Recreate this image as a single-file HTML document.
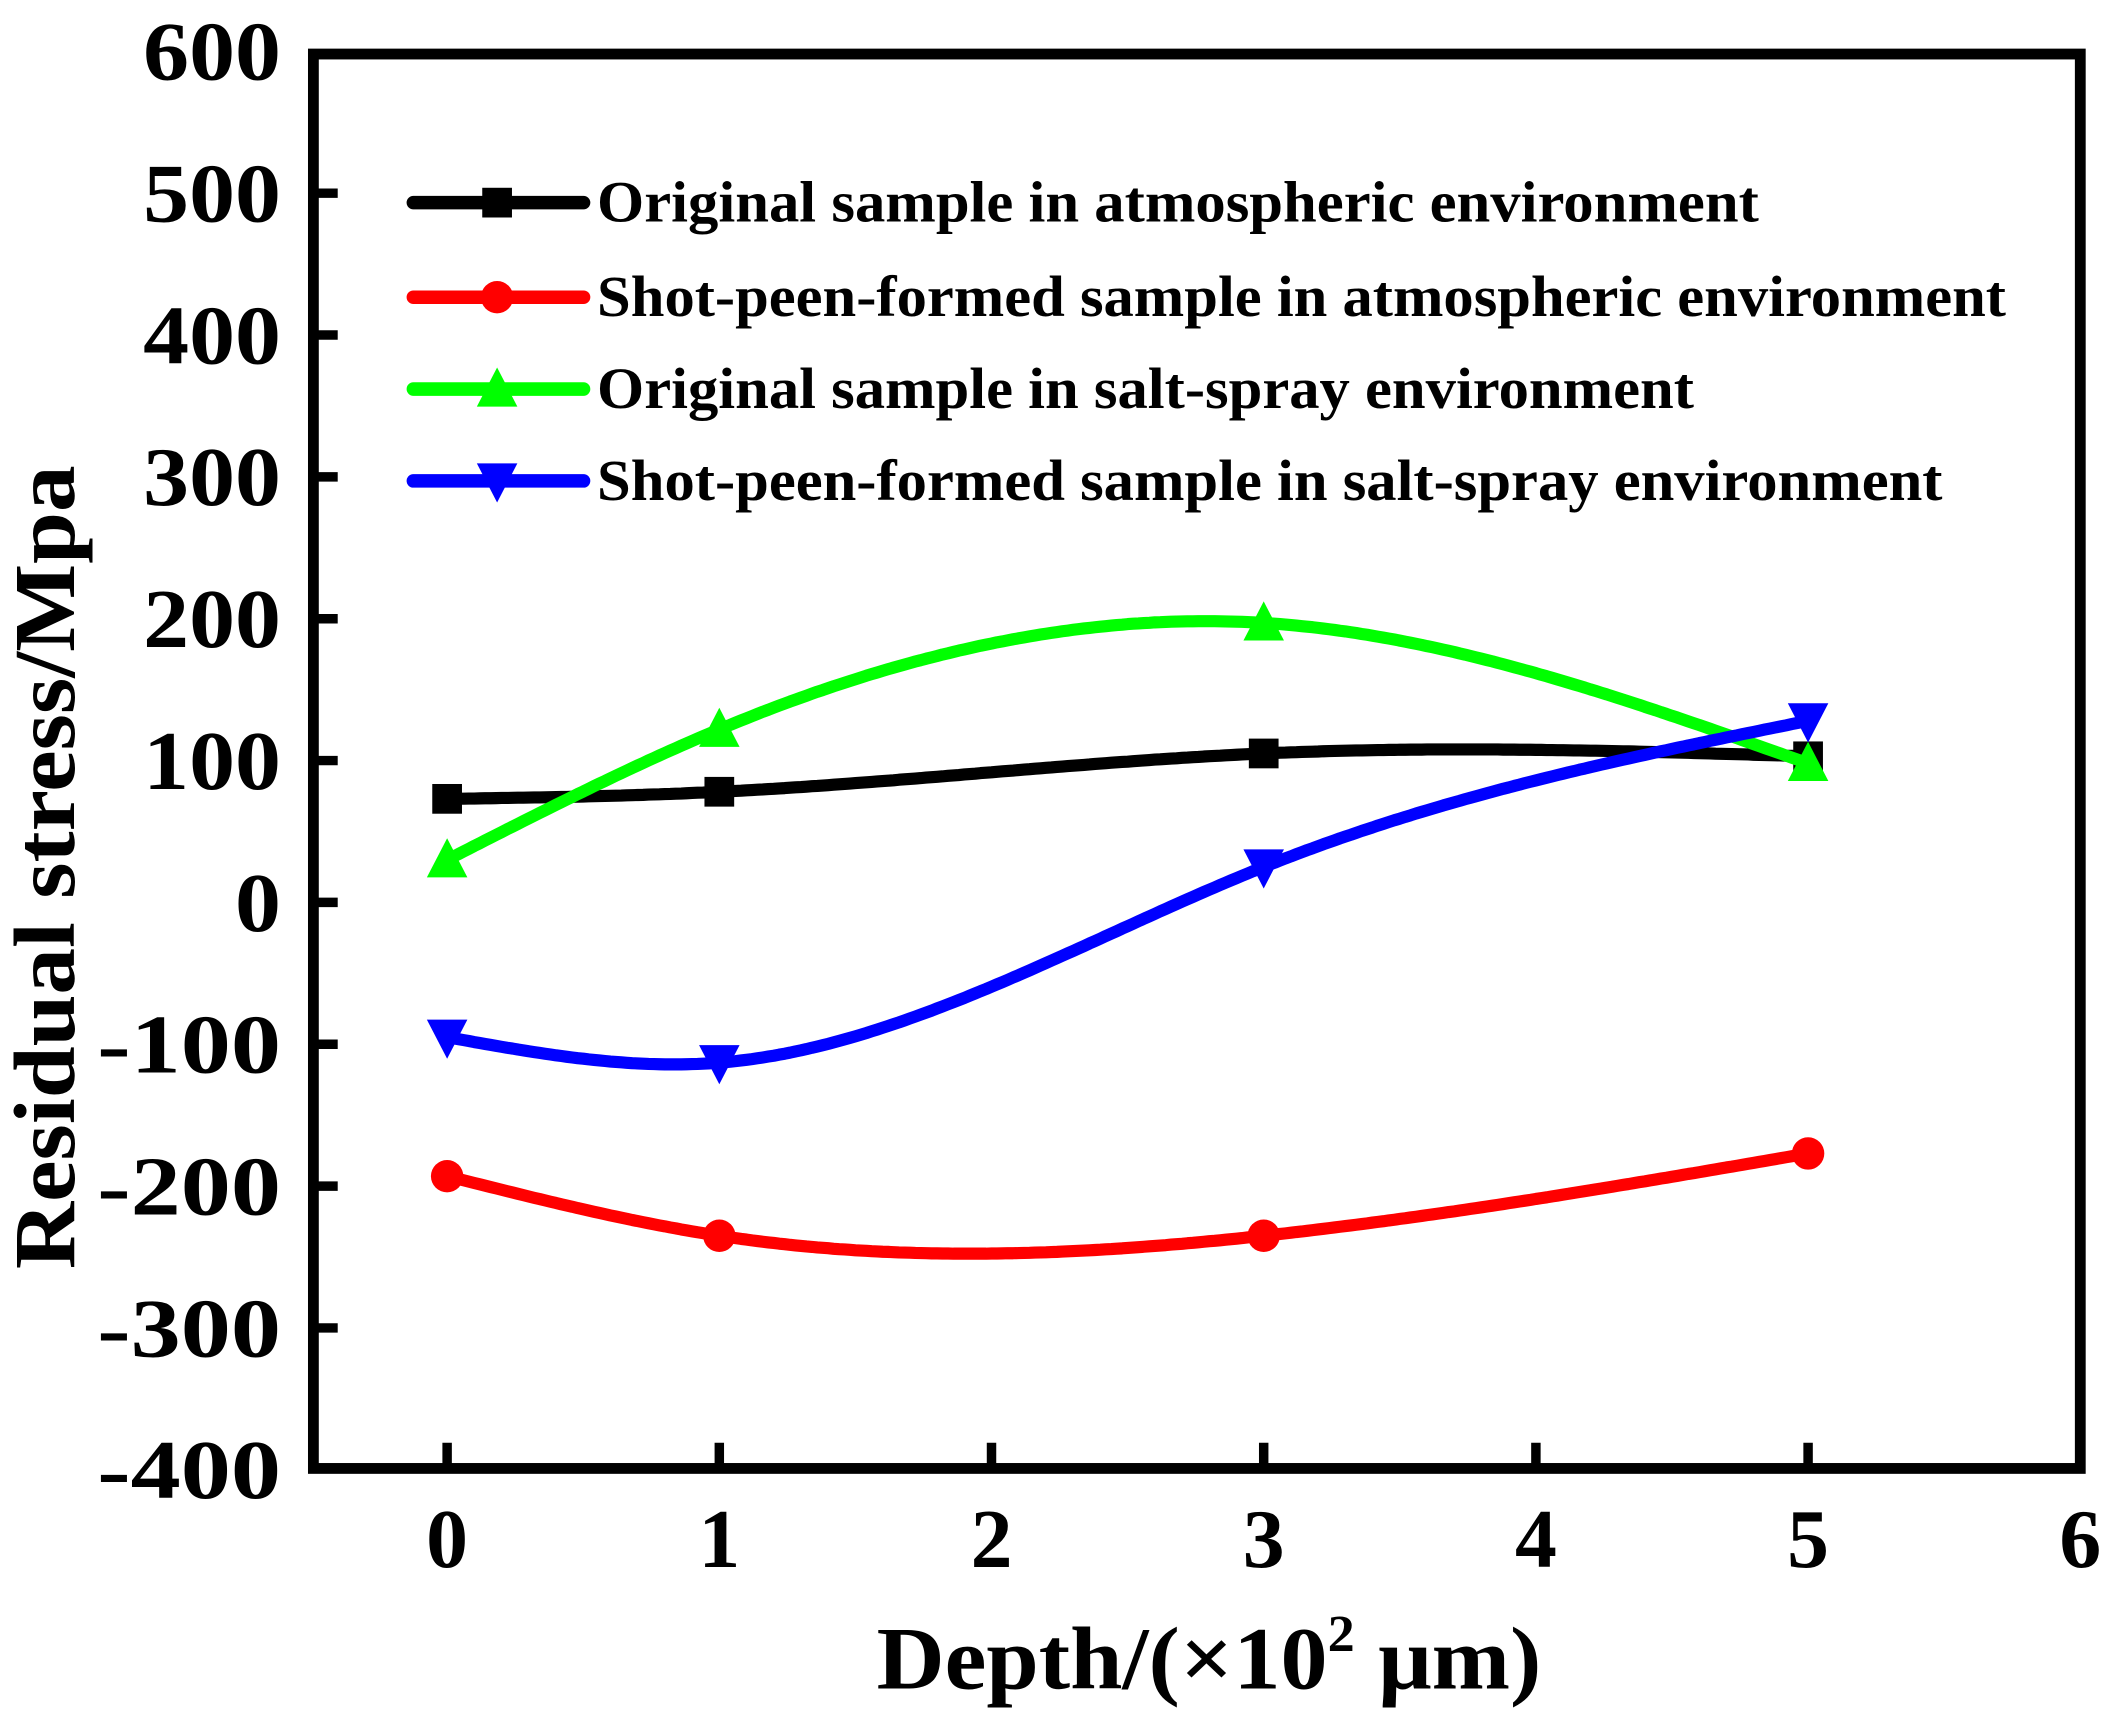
<!DOCTYPE html>
<html><head><meta charset="utf-8"><style>
html,body{margin:0;padding:0;background:#fff;}
svg{display:block;}
text{font-family:"Liberation Serif",serif;font-weight:bold;fill:#000;}
</style></head><body>
<svg id="s" width="2110" height="1717" viewBox="0 0 1562 1271" preserveAspectRatio="none" xmlns="http://www.w3.org/2000/svg">
<rect x="0" y="0" width="1562" height="1271" fill="#fff"/>
<g id="ticks" stroke="#000" stroke-width="7"></g>
<rect x="232" y="40" width="1308" height="1047" fill="none" stroke="#000" stroke-width="8"/>
<g id="series"></g>
<g id="legend"></g>
<g id="labels" font-size="62" text-anchor="end"></g>
<text x="40" y="642" font-size="64" text-anchor="middle" transform="rotate(-90 40 642)" dominant-baseline="middle" textLength="595" lengthAdjust="spacingAndGlyphs">Residual stress/Mpa</text>
<text x="895" y="1250" font-size="66" text-anchor="middle" textLength="492" lengthAdjust="spacingAndGlyphs">Depth/(×10<tspan font-size="38" dy="-28">2</tspan><tspan dy="28"> μm)</tspan></text>
</svg>
<script>
const NS="http://www.w3.org/2000/svg";
function el(t,a,p){const e=document.createElementNS(NS,t);for(const k in a)e.setAttribute(k,a[k]);p.appendChild(e);return e;}
const X=v=>331+v*201.5, Y=v=>668-v*1.05;
const tk=document.getElementById('ticks'), lb=document.getElementById('labels');
for(let v=-400;v<=600;v+=100){
  if(v>-400&&v<600) el('line',{x1:232,y1:Y(v),x2:250,y2:Y(v)},tk);
  const s=String(v);
  const t=el('text',{x:208,y:Y(v)+21,textLength:s.length*34,lengthAdjust:'spacingAndGlyphs'},lb);t.textContent=s;
}
for(let i=0;i<=6;i++){
  if(i<6) el('line',{x1:X(i),y1:1087,x2:X(i),y2:1068},tk);
  const t=el('text',{x:X(i),y:1160,'text-anchor':'middle'},lb);t.textContent=String(i);
}
function spline(xs,ys){
  const n=xs.length,h=[],a=[],l=[1],mu=[0],z=[0],c=new Array(n).fill(0),b=[],d=[];
  for(let i=0;i<n-1;i++)h.push(xs[i+1]-xs[i]);
  for(let i=1;i<n-1;i++)a[i]=3/h[i]*(ys[i+1]-ys[i])-3/h[i-1]*(ys[i]-ys[i-1]);
  for(let i=1;i<n-1;i++){l[i]=2*(xs[i+1]-xs[i-1])-h[i-1]*mu[i-1];mu[i]=h[i]/l[i];z[i]=(a[i]-h[i-1]*z[i-1])/l[i];}
  l[n-1]=1;z[n-1]=0;c[n-1]=0;
  for(let j=n-2;j>=0;j--){c[j]=z[j]-mu[j]*c[j+1];b[j]=(ys[j+1]-ys[j])/h[j]-h[j]*(c[j+1]+2*c[j])/3;d[j]=(c[j+1]-c[j])/(3*h[j]);}
  let p='';
  for(let x=xs[0];x<=xs[n-1]+1e-9;x+=0.02){
    let j=0;while(j<n-2&&x>xs[j+1])j++;
    const dx=x-xs[j];const y=ys[j]+b[j]*dx+c[j]*dx*dx+d[j]*dx*dx*dx;
    p+=(p?'L':'M')+X(x).toFixed(1)+' '+Y(y).toFixed(1);
  }
  return p;
}
function marker(type,x,y,col,g){
  if(type=='sq') el('rect',{x:x-11,y:y-11,width:22,height:22,fill:col},g);
  else if(type=='ci') el('circle',{cx:x,cy:y,r:12,fill:col},g);
  else if(type=='up') el('polygon',{points:`${x},${y-16} ${x-15},${y+13} ${x+15},${y+13}`,fill:col},g);
  else el('polygon',{points:`${x},${y+16} ${x-15},${y-13} ${x+15},${y-13}`,fill:col},g);
}
const xs=[0,1,3,5];
const S=[
 {c:'#000',m:'sq',y:[73,78,105,103],n:'Original sample in atmospheric environment',ly:150,w:860},
 {c:'#f00',m:'ci',y:[-193,-235,-235,-177],n:'Shot-peen-formed sample in atmospheric environment',ly:220,w:1043},
 {c:'#0f0',m:'up',y:[30,122,197,98],n:'Original sample in salt-spray environment',ly:288,w:812},
 {c:'#00f',m:'dn',y:[-95,-113,25,128],n:'Shot-peen-formed sample in salt-spray environment',ly:356,w:996}
];
const sg=document.getElementById('series'),lg=document.getElementById('legend');
S.forEach(s=>{
  el('path',{d:spline(xs,s.y),fill:'none',stroke:s.c,'stroke-width':9,'stroke-linejoin':'round'},sg);
  xs.forEach((x,i)=>marker(s.m,X(x),Y(s.y[i]),s.c,sg));
  el('line',{x1:306,y1:s.ly,x2:432,y2:s.ly,stroke:s.c,'stroke-width':10,'stroke-linecap':'round'},lg);
  marker(s.m,368,s.ly,s.c,lg);
  const t=el('text',{x:442,y:s.ly+14,'font-size':43,textLength:s.w,lengthAdjust:'spacingAndGlyphs'},lg);t.textContent=s.n;
});
</script>
</body></html>
